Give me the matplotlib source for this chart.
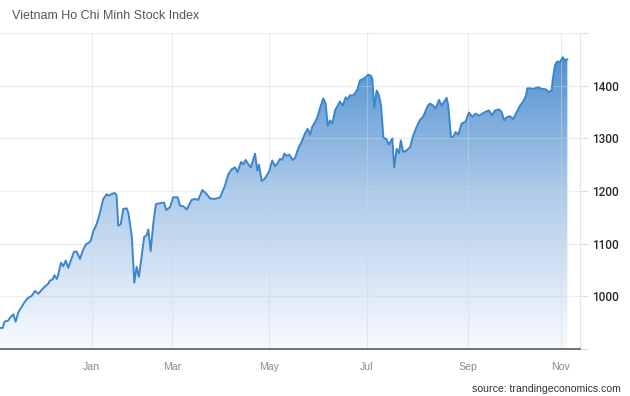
import matplotlib
matplotlib.use("Agg")
import matplotlib.pyplot as plt
import numpy as np
from matplotlib.colors import LinearSegmentedColormap

# Trading-day index (x) and index level (y)
days = [0, 1.2, 2.0, 3.6, 4.3, 5.8, 6.8, 8.0, 9.0, 10.4, 11.9, 13.8, 15.2, 16.7, 18.1,
        19.6, 21.0, 21.7, 22.9, 23.6, 24.7, 25.3, 26.5, 27.5, 28.6, 29.7, 30.7, 32.2,
        33.3, 34.8, 36.0, 37.4, 38.4, 39.4, 40.6, 42.0, 43.5, 44.9, 46.4, 47.4, 48.8,
        50.0, 50.7, 51.4, 52.5, 53.6, 55.1, 55.8, 57.3, 58.4, 59.4, 60.4, 61.6, 62.7,
        63.8, 64.5, 65.5, 66.7, 67.8, 69.6, 71.4, 72.2, 73.9, 75.3, 77.3, 78.3, 79.7,
        81.2, 83.3, 84.8, 86.2, 88.0, 89.9, 91.3, 93.5, 95.7, 97.8, 99.3, 100.7, 102.2,
        103.3, 104.8, 105.8, 106.8, 108.0, 109.1, 110.9, 111.9, 112.6, 113.8, 115.2,
        117.0, 118.4, 119.6, 120.7, 121.7, 122.7, 123.6, 124.7, 125.8, 127.3, 128.3,
        129.7, 131.2, 132.6, 133.8, 134.8, 135.8, 137.0, 138.1, 139.1, 140.6, 141.6,
        142.5, 143.5, 144.5, 145.7, 146.8, 147.8, 149.0, 150.3, 151.2, 152.2, 153.2,
        154.3, 155.5, 156.5, 158.0, 159.0, 160.1, 161.3, 161.9, 162.7, 163.8, 164.8,
        165.7, 166.7, 168.1, 169.1, 170.6, 171.4, 172.5, 173.5, 174.3, 175.3, 176.8,
        178.3, 179.7, 181.2, 182.6, 184.0, 186.0, 187.0, 188.4, 189.4, 190.9, 192.0,
        193.2, 194.2, 194.9, 196.1, 197.1, 198.1, 199.3, 200.7, 202.5, 203.9, 205.3,
        206.8, 208.3, 209.7, 210.9, 212.6, 214.0, 215.2, 217.0, 218.1, 219.3, 220.3,
        221.7, 223.2, 224.7, 226.1, 227.5, 228.7, 229.3, 230.4, 231.9, 234.0, 235.5,
        237.4, 238.4, 239.9, 240.3, 241.3, 242.3, 243.5, 244.7, 245.7, 246.7]
values = [940, 940, 952, 954, 959, 966, 952, 970, 977, 987, 996, 1001, 1010, 1005, 1012,
          1019, 1024, 1030, 1032, 1040, 1033, 1041, 1064, 1057, 1068, 1054, 1067, 1085,
          1085, 1071, 1087, 1099, 1101, 1105, 1124, 1137, 1159, 1185, 1194, 1191, 1195,
          1196, 1192, 1134, 1137, 1166, 1167, 1159, 1115, 1026, 1056, 1037, 1076, 1113,
          1116, 1127, 1086, 1140, 1175, 1177, 1178, 1164, 1169, 1188, 1188, 1172, 1171,
          1165, 1183, 1185, 1183, 1202, 1194, 1186, 1185, 1188, 1210, 1232, 1241, 1245,
          1236, 1255, 1251, 1259, 1251, 1245, 1271, 1239, 1250, 1219, 1224,
          1237, 1258, 1247, 1253, 1261, 1259, 1271, 1267, 1269, 1259, 1263,
          1281, 1294, 1309, 1318, 1307, 1322, 1331, 1341, 1357, 1376, 1366,
          1324, 1334, 1328, 1353, 1362, 1370, 1362, 1378, 1374, 1382, 1381,
          1385, 1394, 1410, 1413, 1416, 1421, 1419, 1413, 1359, 1391, 1381,
          1362, 1302, 1298, 1288, 1300, 1245, 1280, 1272, 1296, 1274, 1277,
          1283, 1306, 1322, 1335, 1341, 1362, 1366, 1362, 1357, 1373, 1362,
          1370, 1377, 1363, 1303, 1303, 1312, 1307, 1328, 1332, 1349, 1341,
          1347, 1343, 1347, 1350, 1353, 1344, 1353, 1355, 1350, 1334, 1340,
          1342, 1337, 1350, 1362, 1370, 1381, 1395, 1395, 1394, 1397, 1394,
          1393, 1388, 1391, 1410, 1439, 1446, 1445, 1454, 1448, 1450]

month_pos = [39.9, 74.9, 117.1, 159.4, 203.3, 243.8]
month_labels = ["Jan", "Mar", "May", "Jul", "Sep", "Nov"]
y_ticks = [900, 1000, 1100, 1200, 1300, 1400, 1500]
y_labels = ["", "1000", "1100", "1200", "1300", "1400", ""]

title = "Vietnam Ho Chi Minh Stock Index"
source = "source: trandingeconomics.com"

plt.rcParams["font.family"] = ["Liberation Sans", "DejaVu Sans"]

fig = plt.figure(figsize=(6.3, 3.96), dpi=100)
ax = fig.add_axes([0.0, 47 / 396, 580 / 630, (349 - 33) / 396])
x_max = 252.2
ax.set_xlim(0, x_max)
ax.set_ylim(900, 1500)

# gradient fill clipped to the area under the line
cmap = LinearSegmentedColormap.from_list("g", ["#f8fbfe", "#aecbea", "#4287cc"])
grad = np.linspace(0, 1, 256).reshape(-1, 1)
img = ax.imshow(grad, extent=[0, x_max, 900, 1500], origin="lower", cmap=cmap,
                aspect="auto", zorder=1)
poly = ax.fill_between(days, values, 900, color="none", zorder=1)
img.set_clip_path(poly.get_paths()[0], transform=ax.transData)

ax.plot(days, values, color="#3a86cf", lw=1.4, zorder=3, solid_joinstyle="round")

# grid
ax.set_xticks(month_pos)
ax.set_xticklabels(month_labels)
ax.set_yticks(y_ticks)
ax.set_yticklabels(y_labels)
ax.grid(True, color="#cfd6de", lw=0.8, alpha=0.45, zorder=2)
for line in ax.get_xgridlines() + ax.get_ygridlines():
    line.set_zorder(2)

ax.yaxis.tick_right()
ax.tick_params(axis="y", length=6, width=0.8, color="#dddddd", pad=3,
               labelsize=8.5, labelcolor="#2a2a2a")
ax.tick_params(axis="x", length=0, pad=9, labelsize=7.6, labelcolor="#8a8a8a")
for lab in ax.get_yticklabels():
    lab.set_fontfamily(["Roboto", "Liberation Sans", "DejaVu Sans"])
    lab.set_fontweight("medium")

for s in ["top", "left"]:
    ax.spines[s].set_visible(False)
ax.spines["right"].set_color("#e6e6e6")
ax.spines["right"].set_linewidth(0.8)
ax.spines["bottom"].set_color("#666666")
ax.spines["bottom"].set_linewidth(1.3)
ax.spines["bottom"].set_zorder(4)

fig.text(12 / 630, 1 - 16 / 396, title, fontsize=9, color="#555555",
         ha="left", va="center")
fig.text(621 / 630, 1 - 389 / 396, source, fontsize=7.6, color="#333333",
         ha="right", va="center")

fig.savefig("out.png", dpi=100, facecolor="white")
